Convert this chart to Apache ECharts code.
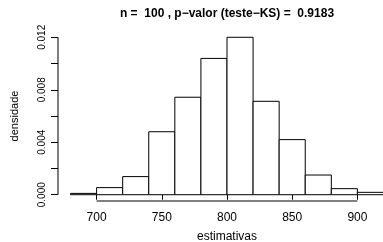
<!DOCTYPE html>
<html>
<head>
    <meta charset="utf-8">
    <title>histograma</title>
    <script src="https://cdn.jsdelivr.net/npm/echarts@6/dist/echarts.min.js"></script>
</head>
<body style="margin:0">
    <div id="main" style="width: 383px;height:242px;"></div>
    <script type="text/javascript">
        // classes do histograma (limites) e densidades
        var binStart = [680, 700, 720, 740, 760, 780, 800, 820, 840, 860, 880, 900];
        var binEnd   = [700, 720, 740, 760, 780, 800, 820, 840, 860, 880, 900, 920];
        var density  = [0.0001, 0.00054, 0.00138, 0.0048, 0.00743, 0.01039, 0.012, 0.00712, 0.0042, 0.0015, 0.00046, 0.00018];
        var xTicks = [700, 750, 800, 850, 900];
        var yTicks = [0, 0.002, 0.004, 0.006, 0.008, 0.010, 0.012];
        var yLabels = [0, 0.004, 0.008, 0.012];

        // limites como no R (xaxs = "r": 4% a mais)
        var xMin = 680 - 0.04 * 240, xMax = 920 + 0.04 * 240;
        var yMin = -0.04 * 0.012, yMax = 0.012 * 1.04;

        var data = [];
        for (var i = 0; i < binStart.length; i++) {
            data.push([binStart[i], binEnd[i], density[i]]);
        }

        var dom = document.getElementById('main');
        var myChart = echarts.init(dom);

        var option = {
            animation: false,
            backgroundColor: '#fff',
            title: {
                text: 'n =  100 , p\u2212valor (teste\u2212KS) =  0.9183',
                left: 222,
                top: 3,
                textAlign: 'center',
                textStyle: {
                    fontFamily: 'Liberation Sans',
                    fontWeight: 'bold',
                    fontSize: 12,
                    color: '#000'
                }
            },
            grid: {
                left: 58,
                right: -13,
                top: 31,
                bottom: 41,
                containLabel: false,
                outerBoundsMode: 'none'
            },
            xAxis: {
                type: 'value',
                min: xMin,
                max: xMax,
                name: 'estimativas',
                nameLocation: 'middle',
                nameGap: 30,
                nameTextStyle: { fontFamily: 'Liberation Sans', fontSize: 12, color: '#000' },
                splitLine: { show: false },
                axisLine: { show: false },
                axisTick: {
                    show: true,
                    customValues: xTicks,
                    length: 5,
                    lineStyle: { color: '#000', width: 1 }
                },
                axisLabel: {
                    customValues: xTicks,
                    margin: 11,
                    fontFamily: 'Liberation Sans',
                    fontSize: 12,
                    color: '#000'
                }
            },
            yAxis: {
                type: 'value',
                min: yMin,
                max: yMax,
                name: 'densidade',
                nameLocation: 'middle',
                nameRotate: 90,
                nameGap: 38,
                nameTextStyle: { fontFamily: 'Liberation Sans', fontSize: 11, color: '#000' },
                splitLine: { show: false },
                axisLine: { show: false },
                axisTick: {
                    show: true,
                    customValues: yTicks,
                    length: 7,
                    lineStyle: { color: '#000', width: 1 }
                },
                axisLabel: {
                    customValues: yLabels,
                    rotate: 90,
                    margin: 11,
                    fontFamily: 'Liberation Sans',
                    fontSize: 10,
                    color: '#000',
                    formatter: function (v) { return v.toFixed(3); }
                }
            },
            series: [{
                type: 'custom',
                data: data,
                renderItem: function (params, api) {
                    var p0 = api.coord([api.value(0), api.value(2)]);
                    var p1 = api.coord([api.value(1), 0]);
                    return {
                        type: 'rect',
                        shape: { x: p0[0], y: p0[1], width: p1[0] - p0[0], height: p1[1] - p0[1] },
                        style: { fill: '#fff', stroke: '#000', lineWidth: 1 }
                    };
                }
            }, {
                // linhas dos eixos só entre o primeiro e o último tick, como no R
                type: 'custom',
                data: [[0]],
                renderItem: function (params, api) {
                    var a = api.coord([xTicks[0], yMin]);
                    var b = api.coord([xTicks[xTicks.length - 1], yMin]);
                    var c = api.coord([xMin, yTicks[0]]);
                    var d = api.coord([xMin, yTicks[yTicks.length - 1]]);
                    return {
                        type: 'group',
                        children: [{
                            type: 'line',
                            shape: { x1: a[0], y1: a[1], x2: b[0], y2: b[1] },
                            style: { stroke: '#000', lineWidth: 1 }
                        }, {
                            type: 'line',
                            shape: { x1: c[0], y1: c[1], x2: d[0], y2: d[1] },
                            style: { stroke: '#000', lineWidth: 1 }
                        }]
                    };
                }
            }]
        };

        myChart.setOption(option);
    </script>
</body>
</html>
